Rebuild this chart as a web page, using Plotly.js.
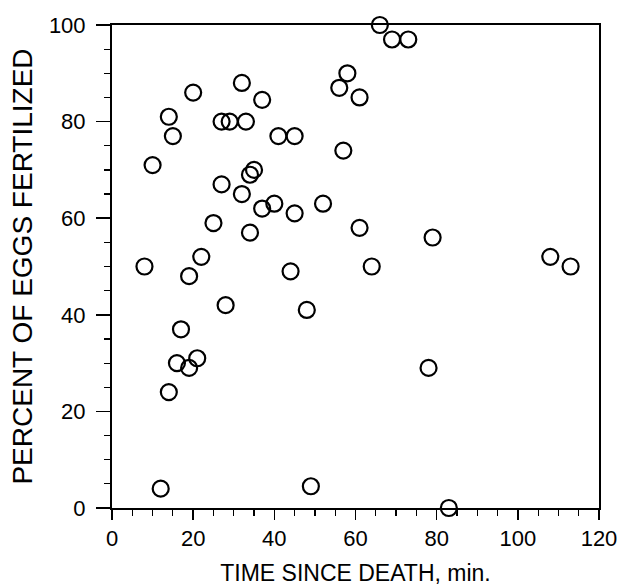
<!DOCTYPE html>
<html>
<head>
<meta charset="utf-8">
<script src="https://cdn.plot.ly/plotly-3.0.1.min.js"></script>
<style>html,body{margin:0;padding:0;background:#fff;}#chart{width:621px;height:586px;}</style>
</head>
<body>
<div id="chart"></div>
<script>
// Time since death (min) and percent of eggs fertilized
const timeSinceDeath = [8, 22, 19, 28, 17, 16, 21, 19, 14, 12,
  44, 48, 49, 64, 78, 83, 108, 113, 79, 61,
  34, 25, 45, 37, 40, 52, 32, 27, 34, 35,
  10, 57, 15, 41, 45, 14, 27, 29, 33, 37,
  20, 32, 56, 58, 61, 66, 69, 73];
const percentFertilized = [50, 52, 48, 42, 37, 30, 31, 29, 24, 4,
  49, 41, 4.5, 50, 29, 0, 52, 50, 56, 58,
  57, 59, 61, 62, 63, 63, 65, 67, 69, 70,
  71, 74, 77, 77, 77, 81, 80, 80, 80, 84.5,
  86, 88, 87, 90, 85, 100, 97, 97];
const xTickVals = [0, 20, 40, 60, 80, 100, 120];
const yTickVals = [0, 20, 40, 60, 80, 100];

const FONT = '"Liberation Sans", Arial, Helvetica, sans-serif';

const trace = {
  x: timeSinceDeath,
  y: percentFertilized,
  type: 'scatter',
  mode: 'markers',
  cliponaxis: false,
  marker: {symbol: 'circle-open', size: 16, color: '#000', line: {width: 2.2, color: '#000'}},
  hoverinfo: 'x+y'
};

const axisCommon = {
  showgrid: false,
  zeroline: false,
  showline: true,
  linecolor: '#000',
  linewidth: 2,
  mirror: true,
  ticks: 'outside',
  tickwidth: 1.5,
  tickcolor: '#000',
  tickfont: {family: FONT, size: 22, color: '#000'},
  minor: {dtick: 5, ticks: 'outside', ticklen: 6, tickwidth: 1.2, tickcolor: '#000', showgrid: false}
};

const layout = {
  width: 621,
  height: 586,
  margin: {l: 112, r: 22, t: 25, b: 78},
  paper_bgcolor: '#fff',
  plot_bgcolor: '#fff',
  showlegend: false,
  font: {family: FONT, color: '#000'},
  xaxis: Object.assign({}, axisCommon, {
    range: [0, 120],
    tickvals: xTickVals,
    ticktext: xTickVals.map(String),
    ticklen: 10,
    ticklabelstandoff: 0,
    title: {text: 'TIME SINCE DEATH, min.', font: {family: FONT, size: 23, color: '#000'}, standoff: 14}
  }),
  yaxis: Object.assign({}, axisCommon, {
    range: [0, 100],
    tickvals: yTickVals,
    ticktext: yTickVals.map(String),
    ticklen: 14,
    ticklabelstandoff: 6,
    title: {text: 'PERCENT OF EGGS FERTILIZED', font: {family: FONT, size: 28, color: '#000'}, standoff: 8}
  })
};

Plotly.newPlot('chart', [trace], layout, {displayModeBar: false, staticPlot: true});
</script>
</body>
</html>
